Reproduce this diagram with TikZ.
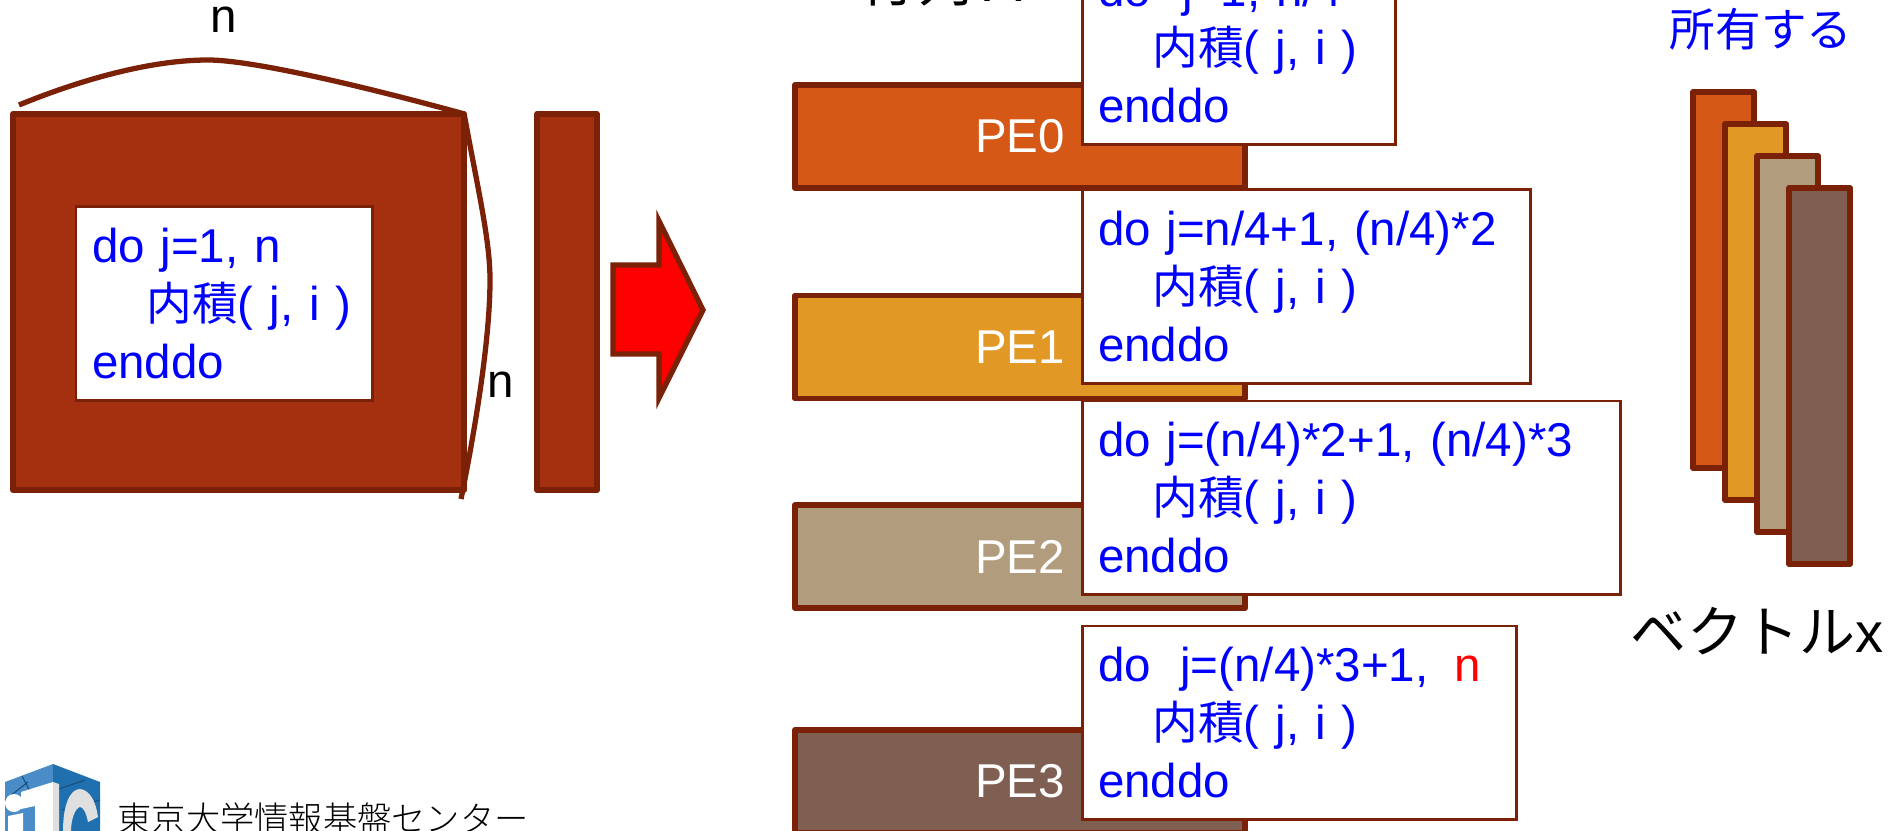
\documentclass[tikz,border=0pt]{standalone}
\usepackage{fontspec}
\setmainfont{Liberation Sans}
\newfontfamily\cjk{Noto Sans CJK JP}
\newfontfamily\cjklight{Noto Sans CJK JP Light}
\usepackage{xcolor}
\usetikzlibrary{positioning}
\definecolor{edgeline}{HTML}{7B2108}
\definecolor{matfill}{HTML}{A5300F}
\definecolor{pezero}{HTML}{D55816}
\definecolor{peone}{HTML}{E19825}
\definecolor{petwo}{HTML}{B19C7D}
\definecolor{pethree}{HTML}{7F5F52}
\definecolor{logolight}{HTML}{4A8CC8}
\definecolor{logodark}{HTML}{2070B0}
\newcommand{\codeindent}{\hspace*{15.5pt}}
\newcommand{\naiseki}{\codeindent{\cjk\fontsize{13pt}{16.5pt}\selectfont 内積}( j, i )}
\tikzset{
    bigfont/.style={font=\fontsize{15.93pt}{19pt}\selectfont},
    codefont/.style={font=\fontsize{13.5pt}{16.5pt}\selectfont},
    solidbar/.style={draw=edgeline, line width=1.6pt, line join=round, outer sep=0pt, inner sep=0pt},
    pebar/.style={solidbar, minimum width=4.50cm, minimum height=1.03cm, text=white, codefont},
    vecbar/.style={solidbar, minimum width=0.61cm, minimum height=3.76cm},
    codebox/.style={draw=edgeline, fill=white, line width=0.85pt, outer sep=0pt, inner xsep=0.16cm, inner ysep=0pt,
        minimum height=1.93cm, anchor=north west, align=left, codefont, text=blue},
    curveline/.style={draw=edgeline, line width=1.5pt}
}
\begin{document}
\begin{tikzpicture}[x=0.01cm, y=-0.01cm]
    \useasboundingbox (0,0) rectangle (1889,831);
    \clip (0,0) rectangle (1889,831);
    % matrix and column
    \node[solidbar, fill=matfill, minimum width=4.51cm, minimum height=3.76cm] (mat) at (238.5,302) {};
    \node[solidbar, fill=matfill, minimum width=0.60cm, minimum height=3.76cm] (col) at (567,302) {};
    \node[codebox, text width=2.64cm] (matcode) at (76,207) {do j=1, n\\\naiseki\\enddo};
    \coordinate (topstart) at (19,105);
    \coordinate (sideend) at (461,499);
    \draw[curveline] (topstart) .. controls (80,80) and (150,60) .. (208,60) .. controls (250,60) and (355,84) .. (mat.north east);
    \draw[curveline] (mat.north east) .. controls (478,190) and (490,240) .. (490,280) .. controls (490,340) and (475,430) .. (sideend);
    \node[codefont, inner sep=0pt] (ntop) at (224,20) {n};
    \node[codefont, inner sep=0pt] (nside) at (501,385) {n};

    % red arrow
    \draw[draw=edgeline, fill=red, line width=1.5pt, miter limit=10] (613,265) -- (659,265) -- (659,221) -- (703,310) -- (659,398) -- (659,354) -- (613,354) -- cycle;

    % PE bars
    \node[pebar, fill=pezero] (pe0) at (1020,136.5) {\raisebox{-0.7pt}{PE0}};
    \node[pebar, fill=peone] (pe1) at (1020,347) {\raisebox{-0.7pt}{PE1}};
    \node[pebar, fill=petwo] (pe2) at (1020,556.5) {PE2};
    \node[pebar, fill=pethree] (pe3) at (1020,781.5) {PE3};

    \node[codebox, text width=2.81cm] (code0) at (1082,-49) {do\ \ j=1, n/4\\\naiseki\\enddo};
    \node[codebox, text width=4.16cm] (code1) at (1082,190) {do j=n/4+1, (n/4)*2\\\naiseki\\enddo};
    \node[codebox, text width=5.06cm] (code2) at (1082,401) {do j=(n/4)*2+1, (n/4)*3\\\naiseki\\enddo};
    \node[codebox, text width=4.02cm] (code3) at (1082,626) {do\ \kern-0.6pt\ j=(n/4)*3+1,\ \kern-1.7pt\ \textcolor{red}{n}\\\naiseki\\enddo};

    \node[bigfont, anchor=base west, inner sep=0pt] (title) at (860,1.5) {{\cjk 行列}\kern3.4pt A};

    % vector x
    \node[vecbar, fill=pezero] (vec0) at (1723.5,280) {};
    \node[vecbar, fill=peone] (vec1) at (1755.5,312) {};
    \node[vecbar, fill=petwo] (vec2) at (1787.5,344) {};
    \node[vecbar, fill=pethree] (vec3) at (1819.5,376) {};
    \node[text=blue, anchor=base, inner sep=0pt, font=\fontsize{12.96pt}{15pt}\selectfont] (owner) at (1761,47) {\cjk 所有する};
    \node[bigfont, anchor=base, inner sep=0pt] (veclabel) at (1757,652) {{\cjk ベクトル}x};

    % logo
    \fill[logolight] (5,782) -- (53,764) -- (53,831) -- (5,831) -- cycle;
    \fill[logodark] (53,764) -- (100,782) -- (100,831) -- (53,831) -- cycle;
    \draw[logodark!70!black, line width=0.3pt] (5,800) -- (28,782) (22,776) -- (40,810) (56,790) -- (85,780) (62,810) -- (100,800);
    \fill[white] (21,792) -- (53,782) -- (53,831) -- (35,831) -- (35,806) -- (21,809) -- cycle;
    \fill[gray!25] (53,782) -- (59,784) -- (59,831) -- (53,831) -- cycle;
    \fill[white] (14,803) circle (9);
    \fill[white] (8,816) -- (23,813) -- (23,831) -- (8,831) -- cycle;
    \fill[gray!25] (63,831) .. controls (63,805) and (70,789) .. (80,789) .. controls (90,790) and (96,802) .. (98,817) -- (88,822) .. controls (86,812) and (83,807) .. (80,807) .. controls (75,808) and (71,820) .. (71,831) -- cycle;
    \node[anchor=base west, inner sep=0pt, font=\fontsize{9.74pt}{11pt}\selectfont] (itc) at (117,831) {\cjklight 東京大学情報基盤センター};
\end{tikzpicture}
\end{document}
